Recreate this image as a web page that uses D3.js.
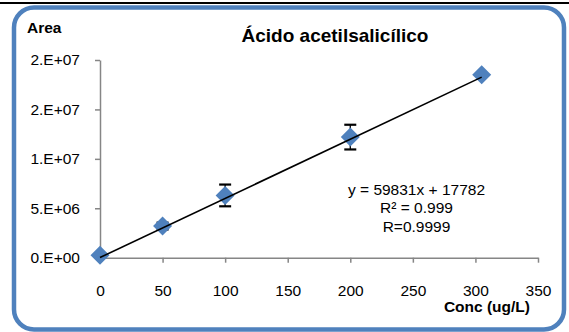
<!DOCTYPE html>
<html><head><meta charset="utf-8">
<script src="https://cdn.jsdelivr.net/npm/d3@7"></script>
<style>html,body{margin:0;padding:0;background:#fff;}svg{display:block;font-family:"Liberation Sans",Arial,sans-serif;}</style>
</head><body>
<script>
const concentrations = [0, 50, 100, 200, 305];
const areas = [0.25e6, 3.2e6, 6.3e6, 12.2e6, 18.5e6];
const errors = [0, 0.35e6, 1.1e6, 1.25e6, 0];
const yTickValues = [0, 5e6, 10e6, 15e6, 20e6];
const yTickLabels = ["0.E+00", "5.E+06", "1.E+07", "2.E+07", "2.E+07"];
const xTickValues = [0, 50, 100, 150, 200, 250, 300, 350];
const slope = 59831, intercept = 17782;
const equationLines = ["y = 59831x + 17782", "R² = 0.999", "R=0.9999"];
const titleText = "Ácido acetilsalicílico";

const W = 569, H = 332;
const svg = d3.select("body").append("svg").attr("width", W).attr("height", H);
svg.append("rect").attr("width", W).attr("height", H).attr("fill", "#fff");
svg.append("line").attr("x1", 0).attr("x2", W).attr("y1", 3).attr("y2", 3).attr("stroke", "#000").attr("stroke-width", 2);
svg.append("rect").attr("x", 14).attr("y", 7.5).attr("width", 550).attr("height", 322).attr("rx", 20).attr("ry", 20)
  .attr("fill", "#fff").attr("stroke", "#4F81BD").attr("stroke-width", 4.5);

const x = d3.scaleLinear().domain([0, 350]).range([100, 538]);
const y = d3.scaleLinear().domain([0, 20e6]).range([257.7, 60]);
const axisColor = "#868686";

const xAxis = svg.append("g").attr("transform", "translate(0,257.7)")
  .call(d3.axisBottom(x).tickValues(xTickValues).tickSizeInner(5).tickSizeOuter(0).tickPadding(22).tickFormat(d3.format("d")));
const yAxis = svg.append("g").attr("transform", "translate(100,0)")
  .call(d3.axisLeft(y).tickValues(yTickValues).tickSizeInner(5).tickSizeOuter(0).tickPadding(15).tickFormat((d, i) => yTickLabels[i]));
[xAxis, yAxis].forEach(g => {
  g.selectAll("path,line").attr("stroke", axisColor).attr("stroke-width", 1.5);
  g.selectAll("text").attr("fill", "#000").attr("font-size", 15.5).attr("font-family", "Liberation Sans, Arial, sans-serif");
});

const pts = concentrations.map((c, i) => ({c, a: areas[i], e: errors[i]}));

// error bars (behind markers)
const eb = svg.append("g").attr("stroke", "#000").attr("stroke-width", 2.2);
pts.filter(d => d.e > 0).forEach(d => {
  const cx = x(d.c), y1 = y(d.a + d.e), y2 = y(d.a - d.e);
  eb.append("line").attr("x1", cx).attr("x2", cx).attr("y1", y1).attr("y2", y2).attr("stroke-width", 1.3);
  eb.append("line").attr("x1", cx - 6).attr("x2", cx + 6).attr("y1", y1).attr("y2", y1);
  eb.append("line").attr("x1", cx - 6).attr("x2", cx + 6).attr("y1", y2).attr("y2", y2);
});

const r = 9.5;
svg.append("g").selectAll("path").data(pts).join("path")
  .attr("d", d => `M${x(d.c)},${y(d.a) - r}L${x(d.c) + r},${y(d.a)}L${x(d.c)},${y(d.a) + r}L${x(d.c) - r},${y(d.a)}Z`)
  .attr("fill", "#4F81BD");

// trendline
svg.append("line")
  .attr("x1", x(concentrations[0])).attr("y1", y(slope * concentrations[0] + intercept))
  .attr("x2", x(concentrations[concentrations.length - 1])).attr("y2", y(slope * concentrations[concentrations.length - 1] + intercept))
  .attr("stroke", "#000").attr("stroke-width", 1.6);

svg.append("text").attr("x", 335).attr("y", 42).attr("text-anchor", "middle")
  .attr("font-size", 19).attr("font-weight", "bold").text(titleText);
svg.append("text").attr("x", 27).attr("y", 33).attr("font-size", 15.5).attr("font-weight", "bold").text("Area");
svg.append("text").attr("x", 530).attr("y", 311.5).attr("text-anchor", "end")
  .attr("font-size", 15.5).attr("font-weight", "bold").text("Conc (ug/L)");

svg.append("g").selectAll("text").data(equationLines).join("text")
  .attr("x", 416.5).attr("y", (d, i) => 195 + i * 18.3).attr("text-anchor", "middle")
  .attr("font-size", 15.5).text(d => d);
</script>
</body></html>
